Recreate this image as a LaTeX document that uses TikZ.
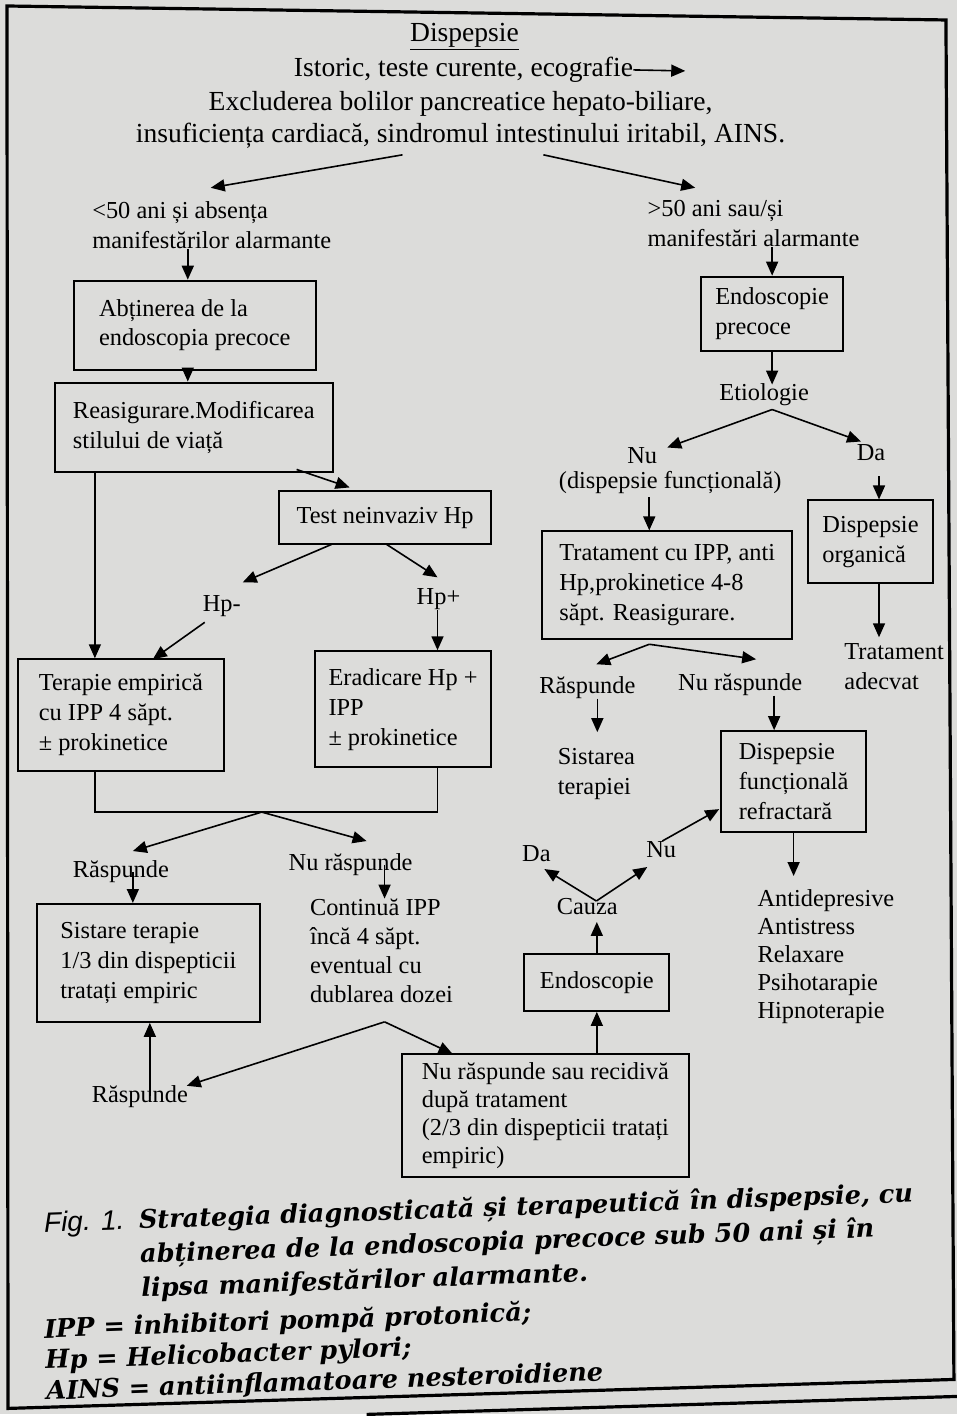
\documentclass[tikz,border=0pt]{standalone}
\usepackage{fontspec}
\setmainfont{Liberation Serif}
\newfontfamily\capfont{DejaVu Serif}
\newfontfamily\figfont{Liberation Sans}
\usetikzlibrary{arrows.meta,calc,positioning}

\definecolor{paper}{RGB}{220,220,218}

\begin{document}
\begin{tikzpicture}[x=0.5pt,y=-0.5pt,           % pixel grid, y downwards
                    >={Triangle[length=7pt,width=6pt]},
                    every node/.style={inner sep=0pt,font=\fontsize{12.2}{15}\selectfont},
                    box/.style={draw,line width=1pt,align=left},
                    lbl/.style={align=left,anchor=west},
                    big/.style={font=\fontsize{13.8}{16.5}\selectfont},
                    arr/.style={->,line width=0.8pt},
                    pageline/.style={line width=1.6pt},
                    capline/.style={anchor=west,align=left,rotate=2,
                      font=\capfont\bfseries\itshape\fontsize{12.8}{17}\selectfont}]

% ---------------------------------------------------------------
% Page and frame
\fill[paper] (0,0) rectangle (958,1416);
\draw[pageline] (7,6) -- (947,20) -- (955,1381) -- (8,1410) -- cycle;
\draw[pageline] (367,1416) -- (958,1398);

% ---------------------------------------------------------------
% Header
\node[big] (title)   at (465,37)  {\underline{Dispepsie}};
\node[big] (istoric) at (464,70)  {Istoric, teste curente, ecografie};
\node[big,align=center] (exclud) at (461,120)
      {Excluderea bolilor pancreatice hepato-biliare,\\insuficiența cardiacă, sindromul intestinului iritabil, AINS.};
\node[lbl] (lt50) at (92,225)  {<50 ani și absența\\manifestărilor alarmante};
\node[lbl] (gt50) at (648,224) {>50 ani sau/și\\manifestări alarmante};

% ---------------------------------------------------------------
% Left branch (under 50)
\node[box,minimum width=121pt,minimum height=44.5pt] (abtin)  at (195,325.5) {Abținerea de la\\endoscopia precoce};
\node[box,minimum width=139pt,minimum height=45pt]   (reasig) at (194,428)   {Reasigurare.Modificarea\\stilului de viață};
\node[box,minimum width=106.5pt,minimum height=26.5pt] (testhp) at (385.5,518.5) {Test neinvaziv Hp};
\node (hpneg) at (222,607) {Hp-};
\node (hppos) at (439,600) {Hp+};
\node[box,minimum width=103pt,minimum height=56pt]  (terapie) at (121,716)   {Terapie empirică\\cu IPP 4 săpt.\\± prokinetice};
\node[box,minimum width=88.5pt,minimum height=58pt] (eradic)  at (403.5,710) {Eradicare Hp +\\IPP\\± prokinetice};
\node (resp1)   at (121,873) {Răspunde};
\node (nuresp1) at (351,866) {Nu răspunde};
\node[box,minimum width=111.5pt,minimum height=59pt] (sistare) at (148.5,964) {Sistare terapie\\1/3 din dispepticii\\tratați empiric};
\node[lbl,font=\fontsize{12.2}{14.5}\selectfont] (contin) at (310,952) {Continuă IPP\\încă 4 săpt.\\eventual cu\\dublarea dozei};
\node (resp2) at (140,1098) {Răspunde};
\node[box,minimum width=144pt,minimum height=61.5pt,font=\fontsize{12.2}{14}\selectfont] (nuresp) at (546,1116.5)
      {Nu răspunde sau recidivă\\după tratament\\(2/3 din dispepticii tratați\\empiric)};

% ---------------------------------------------------------------
% Right branch (over 50)
\node[box,minimum width=71pt,minimum height=37pt] (endprec) at (773,314) {Endoscopie\\precoce};
\node (etiol) at (765,395) {Etiologie};
\node (nu1)   at (643,456) {Nu};
\node (dfunc) at (671,483) {(dispepsie funcțională)};
\node (da1)   at (872,453) {Da};
\node[box,minimum width=62.5pt,minimum height=41.5pt] (organica) at (871.5,542.5) {Dispepsie\\organică};
\node[lbl] (tratad) at (845,667) {Tratament\\adecvat};
\node[box,minimum width=125pt,minimum height=54pt] (tratam) at (668,586) {Tratament cu IPP, anti\\Hp,prokinetice 4-8\\săpt. Reasigurare.};
\node (resp3)   at (588,688) {Răspunde};
\node (nuresp3) at (741,685) {Nu răspunde};
\node[lbl] (sistarea) at (558,775) {Sistarea\\terapiei};
\node[box,minimum width=72.5pt,minimum height=50.5pt] (refract) at (794.5,782.5) {Dispepsie\\funcțională\\refractară};
\node[box,minimum width=72.5pt,minimum height=28.5pt] (endos) at (597.5,983.5) {Endoscopie};
\node (cauza) at (588,908) {Cauza};
\node (da2)   at (537,855) {Da};
\node (nu2)   at (662,851) {Nu};
\node[lbl,font=\fontsize{12.2}{14}\selectfont] (terlist) at (758,958) {Antidepresive\\Antistress\\Relaxare\\Psihotarapie\\Hipnoterapie};

% ---------------------------------------------------------------
% Key points for the connectors
\coordinate (ecoend)    at (686,71);
\coordinate (hdL)       at (403,155);
\coordinate (hdR)       at (544,155);
\coordinate (lt50In)    at (211,188);
\coordinate (gt50In)    at (696,188);
\coordinate (xL)        at (188,0);     % left column
\coordinate (reasigOut) at (297,470);
\coordinate (testIn)    at (350,488);
\coordinate (testL)     at (332,545);
\coordinate (testR)     at (387,545);
\coordinate (hpnegIn)   at (243,583);
\coordinate (hpposIn)   at (438,578);
\coordinate (hpnegOut)  at (205,623);
\coordinate (terapieIn) at (153,660);
\coordinate (xT)        at (95,473);    % reasig -> terapie
\coordinate (joinL)     at (95,813);
\coordinate (joinR)     at (438,813);
\coordinate (joinM)     at (262,813);
\coordinate (resp1In)   at (133,852);
\coordinate (nuresp1In) at (367,842);
\coordinate (contFork)  at (385,1023);
\coordinate (resp2In)   at (187,1087);
\coordinate (nurespIn)  at (453,1055);
\coordinate (sistUp)    at (150,1097);
\coordinate (cauzaIn)   at (597.5,923);
\coordinate (cauzaOut)  at (597,902);
\coordinate (da2In)     at (545,870);
\coordinate (nu2In)     at (648,868);
\coordinate (nu2Out)    at (663,842);
\coordinate (refractIn) at (720,810);
\coordinate (listIn)    at (794.5,877);
\coordinate (etiolIn)   at (773,385);
\coordinate (etiolOut)  at (773,410);
\coordinate (nu1In)     at (668,448);
\coordinate (da1In)     at (862,442);
\coordinate (tratX)     at (650,498);
\coordinate (orgX)      at (880,477);
\coordinate (tratadIn)  at (880,638);
\coordinate (tratOut)   at (650,645);
\coordinate (resp3In)   at (597,665);
\coordinate (nuresp3In) at (757,660);
\coordinate (sistareaIn) at (598,733);
\coordinate (refTop)    at (775,732);

% ---------------------------------------------------------------
% Connectors: header
\draw[arr] (istoric.east) -- (ecoend);
\draw[arr] (hdL) -- (lt50In);
\draw[arr] (hdR) -- (gt50In);

% Connectors: left branch
\draw[arr] (lt50.south -| xL) -- (abtin.north -| xL);
\draw[arr] (abtin.south -| xL) -- (reasig.north -| xL);
\draw[arr] (reasigOut) -- (testIn);
\draw[arr] (xT) -- (terapie.north -| xT);
\draw[arr] (testL) -- (hpnegIn);
\draw[arr] (testR) -- (hpposIn);
\draw[arr] (hpnegOut) -- (terapieIn);
\draw[arr] (hppos.south -| hpposIn) -- (eradic.north -| hpposIn);
\draw[line width=0.8pt] (terapie.south -| joinL) -- (joinL) -- (joinR) -- (eradic.south -| joinR);
\draw[arr] (joinM) -- (resp1In);
\draw[arr] (joinM) -- (nuresp1In);
\draw[arr] (resp1In |- resp1.center) -- (sistare.north -| resp1In);
\draw[arr] (nuresp1 -| contFork) -- (contin.north -| contFork);
\draw[arr] (contFork) -- (resp2In);
\draw[arr] (contFork) -- (nurespIn);
\draw[arr] (sistUp) -- (sistare.south -| sistUp);

% Connectors: right branch
\draw[arr] (gt50.south -| endprec) -- (endprec.north);
\draw[arr] (endprec.south) -- (etiolIn);
\draw[arr] (etiolOut) -- (nu1In);
\draw[arr] (etiolOut) -- (da1In);
\draw[arr] (tratX) -- (tratam.north -| tratX);
\draw[arr] (orgX) -- (organica.north -| orgX);
\draw[arr] (organica.south -| orgX) -- (tratadIn);
\draw[arr] (tratOut) -- (resp3In);
\draw[arr] (tratOut) -- (nuresp3In);
\draw[arr] (resp3.south -| sistareaIn) -- (sistareaIn);
\draw[arr] (nuresp3.south -| refTop) -- (refract.north -| refTop);
\draw[arr] (refract.south) -- (listIn);
\draw[arr] (nuresp.north -| endos.south) -- (endos.south);
\draw[arr] (endos.north) -- (cauzaIn);
\draw[arr] (cauzaOut) -- (da2In);
\draw[arr] (cauzaOut) -- (nu2In);
\draw[arr] (nu2Out) -- (refractIn);

% ---------------------------------------------------------------
% Caption and abbreviations
\node[capline] (capt) at (45,1260)
      {\makebox[47.5pt][l]{\figfont\mdseries\itshape\fontsize{14}{17}\selectfont Fig. 1.}Strategia diagnosticată și terapeutică în dispepsie, cu\\
       \hspace*{47.5pt}abținerea de la endoscopia precoce sub 50 ani și în\\
       \hspace*{47.5pt}lipsa manifestărilor alarmante.};
\node[capline,font=\capfont\bfseries\itshape\fontsize{12.8}{15.5}\selectfont] (legend) at (45,1363)
      {IPP = inhibitori pompă protonică;\\Hp = Helicobacter pylori;\\AINS = antiinflamatoare nesteroidiene};

\end{tikzpicture}
\end{document}
